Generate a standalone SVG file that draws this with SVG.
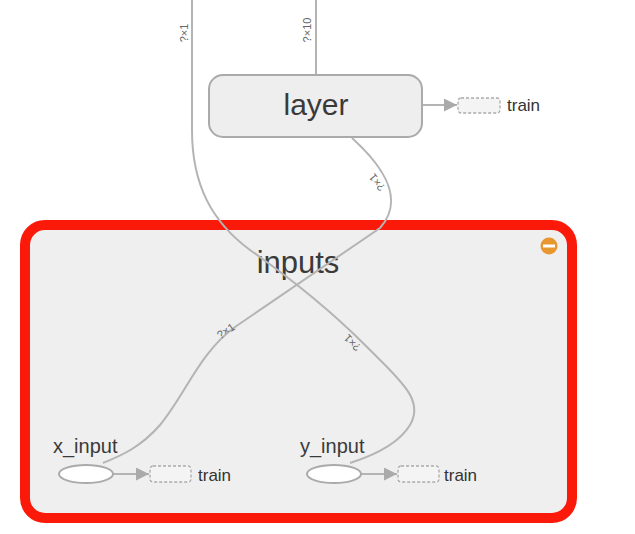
<svg xmlns="http://www.w3.org/2000/svg" width="635" height="534" viewBox="0 0 635 534">
<style>
.edge{fill:none;stroke:#b4b4b4;stroke-width:2}
.lbl{font-family:"Liberation Sans",Arial,sans-serif;font-size:11px;fill:#666;text-anchor:middle}
.node{font-family:"Liberation Sans",Arial,sans-serif;fill:#3a3a3a}
.tr{font-family:"Liberation Sans",Arial,sans-serif;font-size:17px;fill:#333}
.dash{fill:#f4f4f4;stroke:#aaa;stroke-width:1.3;stroke-dasharray:3,2}
.ell{fill:#fff;stroke:#aaa;stroke-width:2}
</style>
<defs>
<marker id="ah" viewBox="0 0 10 10" refX="10" refY="5" markerWidth="6.5" markerHeight="6.5" orient="auto" markerUnits="strokeWidth">
<path d="M0,0 L10,5 L0,10 z" fill="#aaa"/>
</marker>
</defs>
<rect width="635" height="534" fill="#fff"/>
<g id="inputs">
<rect x="25" y="225" width="547" height="293" rx="20" fill="#efefef" stroke="#fb1a0a" stroke-width="10"/>
<text class="node" x="298" y="273" font-size="31" text-anchor="middle">inputs</text>
<circle cx="549" cy="246" r="8.5" fill="#e8962e"/>
<rect x="543" y="244.5" width="12" height="3" fill="#fff"/>
</g>
<g id="connectors">
<path class="edge" d="M192,0 L192,130 C192,185 212,222 250,250 C290,278 330,310 365,345 C400,380 425,400 410,425 C398,445 372,456 350,463"/>
<path class="edge" d="M352,138 C385,168 405,200 380,228 L235,327 C200,352 185,395 160,425 C140,448 120,456 103,463"/>
<path class="edge" d="M316,0 L316,75"/>
<path class="edge" d="M422,105 L457,105" marker-end="url(#ah)"/>
<path class="edge" d="M112,474 L149,474" marker-end="url(#ah)"/>
<path class="edge" d="M361,474 L397,474" marker-end="url(#ah)"/>
<text class="lbl" transform="translate(188,33) rotate(-90)">?×1</text>
<text class="lbl" transform="translate(311,30) rotate(-90)">?×10</text>
<text class="lbl" transform="translate(380,180) rotate(-128)">?×1</text>
<text class="lbl" transform="translate(228,334) rotate(-34)">?×1</text>
<text class="lbl" transform="translate(355,340) rotate(-135)">?×1</text>
</g>
<g id="layer">
<rect x="209" y="75" width="213" height="62" rx="14" fill="#eeeeee" stroke="#aaa" stroke-width="2"/>
<text class="node" x="316" y="115" font-size="30" text-anchor="middle">layer</text>
</g>
<g id="layer_train">
<rect class="dash" x="458" y="98" width="42" height="15" rx="3"/>
<text class="tr" x="507" y="111">train</text>
</g>
<g id="x_input">
<ellipse class="ell" cx="86" cy="474" rx="27" ry="9"/>
<text class="node" x="53" y="453" font-size="20">x_input</text>
</g>
<g id="x_train">
<rect class="dash" x="150" y="466" width="41" height="16" rx="3"/>
<text class="tr" x="198" y="481">train</text>
</g>
<g id="y_input">
<ellipse class="ell" cx="334" cy="474" rx="27" ry="9"/>
<text class="node" x="300" y="453" font-size="20">y_input</text>
</g>
<g id="y_train">
<rect class="dash" x="398" y="466" width="41" height="16" rx="3"/>
<text class="tr" x="444" y="481">train</text>
</g>
</svg>
